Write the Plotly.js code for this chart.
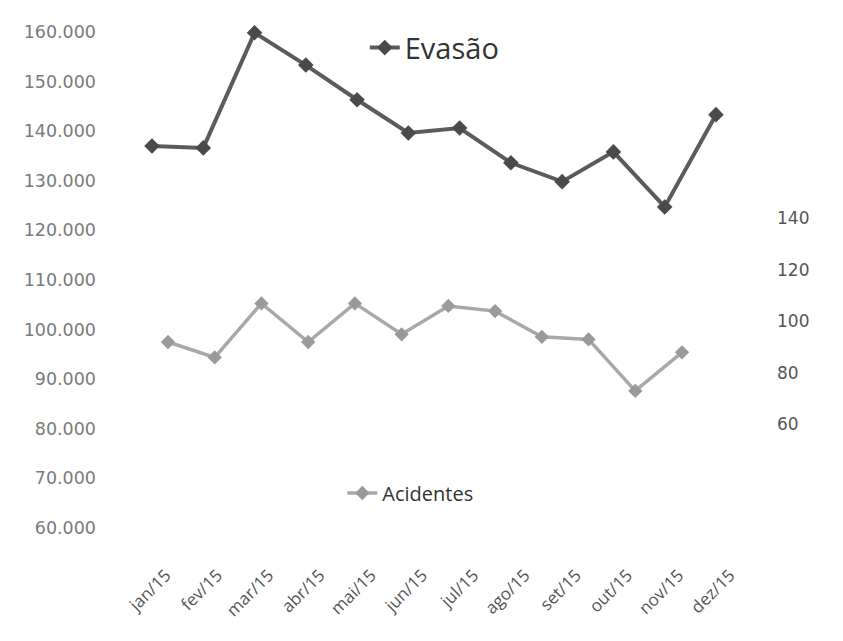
<!DOCTYPE html>
<html>
<head>
<meta charset="utf-8">
<script src="https://cdn.plot.ly/plotly-3.0.1.min.js"></script>
<style>html,body{margin:0;padding:0;background:#fff;}#chart{width:843px;height:641px;}</style>
</head>
<body>
<div id="chart"></div>
<script>
var months = ["jan/15","fev/15","mar/15","abr/15","mai/15","jun/15","jul/15","ago/15","set/15","out/15","nov/15","dez/15"];
var evasao = [137000, 136600, 159800, 153300, 146300, 139600, 140600, 133600, 129800, 135800, 124700, 143300];
var acidentes = [92, 86, 107, 92, 107, 95, 106, 104, 94, 93, 73, 88];
var leftTicks = [60000, 70000, 80000, 90000, 100000, 110000, 120000, 130000, 140000, 150000, 160000];
var rightTicks = [60, 80, 100, 120, 140];

var traces = [
  {
    x: months, y: evasao, name: "Evasão", type: "scatter", mode: "lines+markers",
    xaxis: "x", yaxis: "y", legend: "legend",
    line: {color: "#5b5b5b", width: 4},
    marker: {symbol: "diamond", size: 12, color: "#4a4a4a"}
  },
  {
    x: months, y: acidentes, name: "Acidentes", type: "scatter", mode: "lines+markers",
    xaxis: "x2", yaxis: "y2", legend: "legend2",
    line: {color: "#a8a8a8", width: 3.5},
    marker: {symbol: "diamond", size: 11, color: "#9a9a9a"}
  }
];

var layout = {
  width: 843, height: 641,
  margin: {l: 110, r: 73, t: 7, b: 76},
  paper_bgcolor: "#fff", plot_bgcolor: "#fff",
  separators: ",.",
  showlegend: true,
  xaxis: {
    type: "category", range: [-0.819, 12.054],
    showgrid: false, zeroline: false, showline: false, ticks: "",
    tickangle: -45, ticklabelshift: 14, ticklabelstandoff: -4,
    tickfont: {family: "Open Sans", size: 17, color: "#555"}
  },
  xaxis2: {
    type: "category", overlaying: "x", range: [-1.241, 12.883],
    showgrid: false, zeroline: false, showline: false, showticklabels: false, ticks: ""
  },
  yaxis: {
    range: [52540, 165000],
    tickvals: leftTicks, tickformat: ",.0f",
    showgrid: false, zeroline: false, showline: false, ticks: "",
    ticklabelstandoff: 13,
    tickfont: {family: "DejaVu Sans", size: 17.5, color: "#7a7a7a"}
  },
  yaxis2: {
    overlaying: "y", side: "right", anchor: "x",
    range: [5.4, 222.1],
    tickvals: rightTicks,
    showgrid: false, zeroline: false, showline: false, ticks: "",
    ticklabelstandoff: 6,
    tickfont: {family: "DejaVu Sans", size: 17, color: "#555"}
  },
  legend: {
    x: 0.386, y: 0.927, xanchor: "left", yanchor: "middle", xref: "paper", yref: "paper",
    bgcolor: "rgba(0,0,0,0)", itemwidth: 30,
    font: {family: "Open Sans", size: 29, color: "#333"}
  },
  legend2: {
    x: 0.352, y: 0.129, xanchor: "left", yanchor: "middle", xref: "paper", yref: "paper",
    bgcolor: "rgba(0,0,0,0)", itemwidth: 30,
    font: {family: "Open Sans", size: 20, color: "#333"}
  }
};

Plotly.newPlot("chart", traces, layout, {displayModeBar: false, staticPlot: true});
</script>
</body>
</html>
